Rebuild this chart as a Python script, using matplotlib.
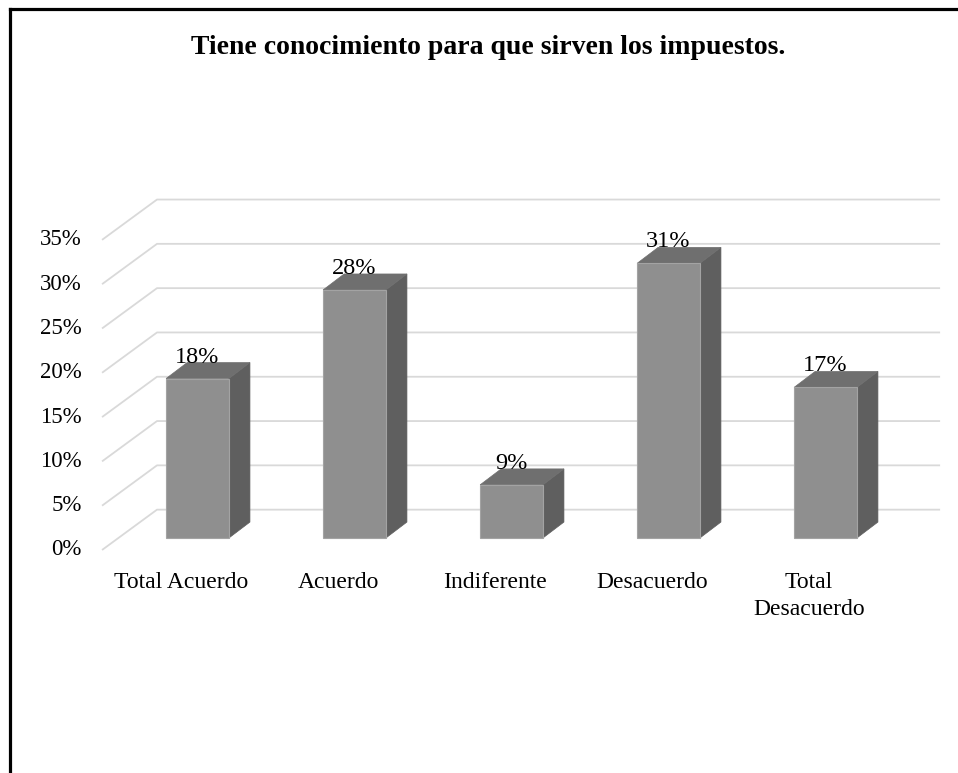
import matplotlib.pyplot as plt
from matplotlib.patches import Polygon, Rectangle
from matplotlib.lines import Line2D

plt.rcParams['font.family'] = ['Liberation Serif', 'DejaVu Serif']

# data
categories = ['Total Acuerdo', 'Acuerdo', 'Indiferente', 'Desacuerdo', 'Total\nDesacuerdo']
bar_heights = [18, 28, 6, 31, 17]          # as drawn in the picture
bar_labels = ['18%', '28%', '9%', '31%', '17%']
ticks = [0, 5, 10, 15, 20, 25, 30, 35]
title = 'Tiene conocimiento para que sirven los impuestos.'

# fake 3d geometry (in data units)
bw = 0.4            # bar width
dx, dy = 0.134, 1.8 # bar depth offset
fx, fy = -0.105, -1.35  # floor front edge relative to bar front
bx, by = 0.245, 3.2     # back wall relative to bar front
grid_left = -0.608
grid_right = 4.73

fig = plt.figure(figsize=(9.58, 7.73), dpi=100)
ax = fig.add_axes([0, 0, 1, 1])
ax.set_xlim(-1.258, 4.844)
ax.set_ylim(-26.52, 60.72)
ax.axis('off')

# gridlines: diagonal on the left side wall, then flat along back wall
for t in ticks:
    ax.plot([grid_left, grid_left + (bx - fx), grid_right],
            [t + fy, t + by, t + by], color='#d9d9d9', lw=1.3, zorder=1,
            solid_capstyle='butt')
    ax.text(grid_left - 0.13, t + fy, f'{t}%', ha='right', va='center',
            fontsize=16.5, color='black')

# bars
for i, v in enumerate(bar_heights):
    x0 = i - bw / 2
    x1 = i + bw / 2
    ax.add_patch(Rectangle((x0, 0), bw, v, facecolor='#8f8f8f',
                           edgecolor='#a3a3a3', lw=0.8, zorder=3))
    ax.add_patch(Polygon([(x1, 0), (x1 + dx, dy), (x1 + dx, v + dy), (x1, v)],
                         closed=True, facecolor='#5f5f5f', edgecolor='#5f5f5f',
                         lw=0.5, zorder=2))
    ax.add_patch(Polygon([(x0, v), (x0 + dx, v + dy), (x1 + dx, v + dy), (x1, v)],
                         closed=True, facecolor='#6f6f6f', edgecolor='#6f6f6f',
                         lw=0.5, zorder=2))
    ax.text(i, v + dy, bar_labels[i], ha='center', va='baseline',
            fontsize=17.5, color='black', zorder=4)
    ax.text(i + fx, -3.85, categories[i], ha='center', va='top',
            fontsize=17, color='black', linespacing=1.38)

fig.text(488 / 958, 1 - 54 / 773, title, ha='center', va='baseline',
         fontsize=20, fontweight='bold')

# border (left and top edges visible)
fig.add_artist(Line2D([10 / 958, 10 / 958], [0, 1 - 9 / 773], color='black',
                      lw=2.3, transform=fig.transFigure))
fig.add_artist(Line2D([10 / 958, 1], [1 - 9 / 773, 1 - 9 / 773], color='black',
                      lw=2.3, transform=fig.transFigure))

fig.savefig('out.png', dpi=100)
